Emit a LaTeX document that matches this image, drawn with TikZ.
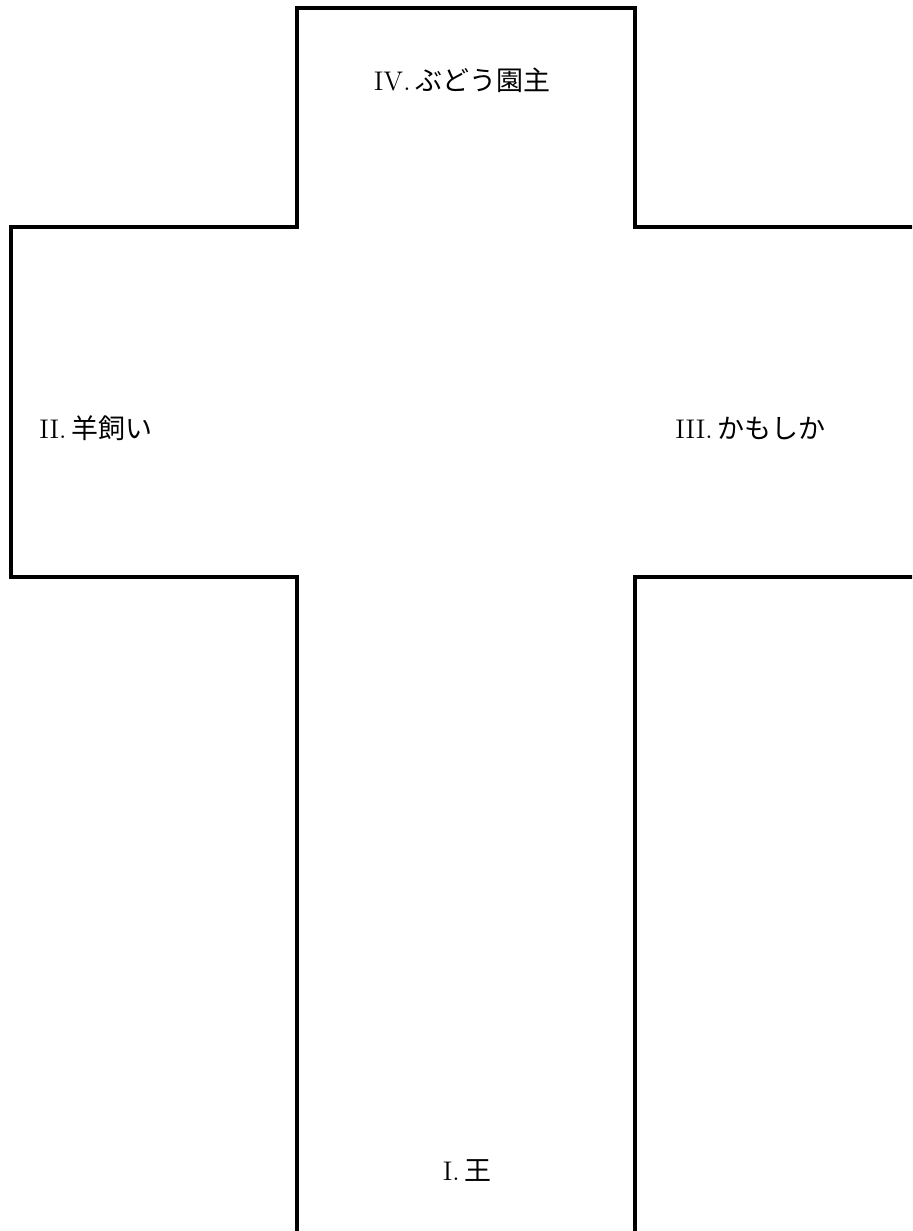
\documentclass[tikz,border=0pt]{standalone}
\usepackage{fontspec}
\newfontfamily\cjk{Noto Sans CJK JP}
\tikzset{edge/.style={line width=1.75pt, line join=miter},
  lbl/.style={inner sep=0pt, font=\fontsize{13.5}{16}\selectfont}}

\begin{document}
\begin{tikzpicture}[x=0.5pt, y=-0.5pt]
\useasboundingbox (0,0) rectangle (912,1231);
\clip (0,0) rectangle (912,1231);
% outline of the cross
\coordinate (sl) at (297,1245);
\coordinate (sr) at (635,1245);
\draw[edge] (sl) -- (297,577) -- (11,577) -- (11,227) -- (297,227)
  -- (297,8) -- (635,8) -- (635,227) -- (925,227);
\draw[edge] (925,577) -- (635,577) -- (sr);
% labels
\node[lbl] (king) at (467,1171) {I.\,{\cjk 王}};
\node[lbl, anchor=west] (shep) at (39,428) {II.\,{\cjk 羊飼い}};
\node[lbl, anchor=west] (hunt) at (675,428) {III.\,{\cjk かもしか}};
\node[lbl] (vine) at (462,80) {IV.\,{\cjk ぶどう園主}};
\end{tikzpicture}
\end{document}
